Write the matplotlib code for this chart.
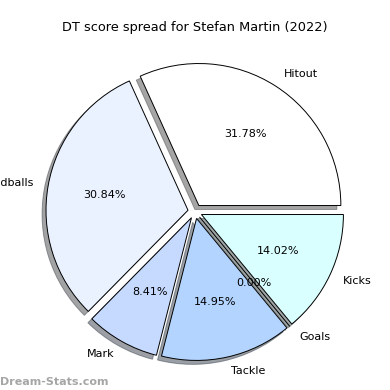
import matplotlib
matplotlib.use("Agg")
import matplotlib.pyplot as plt

# DT score spread, Stefan Martin 2022
categories = ["Hitout", "Handballs", "Mark", "Tackle", "Goals", "Kicks"]
scores = [34, 33, 9, 16, 0, 15]
colors = ["#ffffff", "#eaf1ff", "#c6d9ff", "#b3d4ff", "#d0e8ff", "#d9ffff"]
explode = [0.05] * len(categories)

fig = plt.figure(figsize=(3.9, 3.9), dpi=100)
ax = fig.add_axes([17.5 / 390, 1 / 390, 355 / 390, 355 / 390])

ax.pie(scores, labels=categories, colors=colors, explode=explode,
       autopct="%.2f%%", shadow=True, startangle=0,
       wedgeprops={"edgecolor": "black", "linewidth": 0.7},
       textprops={"fontsize": 8})
ax.set_title("DT score spread for Stefan Martin (2022)", fontsize=9.3, pad=0)

fig.text(0.0, 0.014, "Dream-Stats.com", fontsize=8, fontweight="bold",
         color="gray", alpha=0.7)

fig.savefig("out.png", dpi=100)
